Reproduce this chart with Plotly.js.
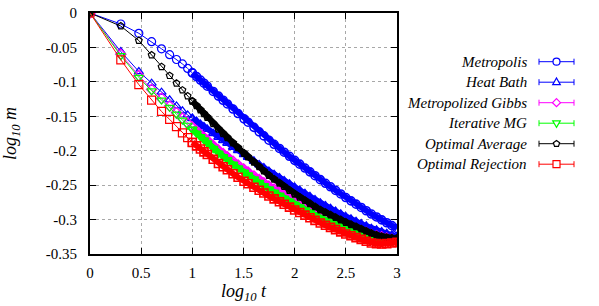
<!DOCTYPE html>
<html>
<head>
<meta charset="utf-8">
<script src="https://cdn.plot.ly/plotly-3.0.1.min.js"></script>
<style>html,body{margin:0;padding:0;background:#fff;}#chart{width:599px;height:306px;}</style>
</head>
<body>
<div id="chart"></div>
<script>
// time steps t (x axis is log10 t)
const tSteps = [1,2,3,4,5,6,7,8,9,10,
  11,12,13,14,16,18,20,22,25,28,
  32,35,40,45,50,56,63,71,79,89,
  100,112,126,141,158,178,200,224,251,282,
  316,355,398,447,501,562,631,708,794,891,
  1000];

const seriesNames = ["Metropolis","Heat Bath","Metropolized Gibbs","Iterative MG","Optimal Average","Optimal Rejection"];

// log10 m values
const metropolis = [0,-0.016,-0.0295,-0.0417,-0.052,-0.0605,-0.0675,-0.074,-0.0805,-0.087,
  -0.0924,-0.0974,-0.1020,-0.1063,-0.1139,-0.1207,-0.1267,-0.1321,-0.1395,-0.1460,
  -0.1536,-0.1586,-0.1661,-0.1726,-0.1785,-0.1847,-0.1907,-0.1967,-0.2022,-0.2081,
  -0.2140,-0.2195,-0.2252,-0.2307,-0.2363,-0.2420,-0.2473,-0.2524,-0.2576,-0.2628,
  -0.2680,-0.2728,-0.2776,-0.2824,-0.2872,-0.2920,-0.2962,-0.3004,-0.3046,-0.3088,
  -0.3130];
const heatBath = [0,-0.056,-0.085,-0.102,-0.115,-0.126,-0.135,-0.142,-0.148,-0.153,
  -0.1574,-0.1615,-0.1653,-0.1688,-0.1750,-0.1805,-0.1851,-0.1892,-0.1948,-0.1997,
  -0.2055,-0.2094,-0.2152,-0.2203,-0.2249,-0.2298,-0.2345,-0.2393,-0.2436,-0.2483,
  -0.2530,-0.2575,-0.2622,-0.2667,-0.2713,-0.2760,-0.2801,-0.2840,-0.2880,-0.2920,
  -0.2960,-0.2994,-0.3028,-0.3062,-0.3096,-0.3130,-0.3154,-0.3178,-0.3202,-0.3226,
  -0.3250];
const metropolizedGibbs = [0,-0.060,-0.091,-0.111,-0.124,-0.135,-0.145,-0.153,-0.160,-0.166,
  -0.1714,-0.1764,-0.1810,-0.1853,-0.1929,-0.1996,-0.2047,-0.2093,-0.2156,-0.2211,
  -0.2275,-0.2314,-0.2372,-0.2423,-0.2469,-0.2518,-0.2561,-0.2605,-0.2644,-0.2687,
  -0.2730,-0.2767,-0.2806,-0.2843,-0.2881,-0.2920,-0.2955,-0.2988,-0.3022,-0.3056,
  -0.3090,-0.3116,-0.3142,-0.3168,-0.3194,-0.3220,-0.3238,-0.3256,-0.3274,-0.3292,
  -0.3310];
const iterativeMG = [0,-0.062,-0.0935,-0.113,-0.1265,-0.137,-0.147,-0.1555,-0.163,-0.169,
  -0.1746,-0.1797,-0.1845,-0.1889,-0.1967,-0.2036,-0.2087,-0.2133,-0.2196,-0.2251,
  -0.2315,-0.2354,-0.2412,-0.2463,-0.2509,-0.2558,-0.2603,-0.2649,-0.2690,-0.2735,
  -0.2780,-0.2817,-0.2856,-0.2893,-0.2931,-0.2970,-0.3003,-0.3034,-0.3066,-0.3098,
  -0.3130,-0.3156,-0.3182,-0.3208,-0.3234,-0.3260,-0.3274,-0.3288,-0.3302,-0.3316,
  -0.3330];
const optimalAverage = [0,-0.019,-0.040,-0.061,-0.078,-0.091,-0.102,-0.112,-0.1205,-0.128,
  -0.1346,-0.1406,-0.1462,-0.1514,-0.1606,-0.1687,-0.1751,-0.1809,-0.1887,-0.1956,
  -0.2037,-0.2088,-0.2165,-0.2232,-0.2293,-0.2357,-0.2413,-0.2469,-0.2519,-0.2575,
  -0.2630,-0.2675,-0.2722,-0.2767,-0.2813,-0.2860,-0.2897,-0.2932,-0.2968,-0.3004,
  -0.3040,-0.3072,-0.3104,-0.3136,-0.3168,-0.3200,-0.3225,-0.3245,-0.3260,-0.3268,
  -0.3270];
const optimalRejection = [0,-0.068,-0.104,-0.1265,-0.143,-0.1545,-0.165,-0.174,-0.181,-0.188,
  -0.1929,-0.1975,-0.2017,-0.2055,-0.2125,-0.2185,-0.2233,-0.2276,-0.2334,-0.2385,
  -0.2444,-0.2479,-0.2530,-0.2575,-0.2615,-0.2658,-0.2699,-0.2741,-0.2778,-0.2819,
  -0.2860,-0.2897,-0.2936,-0.2973,-0.3011,-0.3050,-0.3083,-0.3114,-0.3146,-0.3178,
  -0.3210,-0.3236,-0.3262,-0.3288,-0.3314,-0.3340,-0.3350,-0.3355,-0.3350,-0.3340,
  -0.3330];

const xTickVals = [0,0.5,1,1.5,2,2.5,3];
const xTickText = ["0","0.5","1","1.5","2","2.5","3"];
const yTickVals = [0,-0.05,-0.1,-0.15,-0.2,-0.25,-0.3,-0.35];
const yTickText = ["0","-0.05","-0.1","-0.15","-0.2","-0.25","-0.3","-0.35"];

const allSeries = [metropolis, heatBath, metropolizedGibbs, iterativeMG, optimalAverage, optimalRejection];
const colors = ["#0000ff","#0000ff","#ff00ff","#00ff00","#000000","#ff0000"];
const symbols = ["circle-open","triangle-up-open","diamond-open","triangle-down-open","pentagon-open","square-open"];
const sizes = [8,8,8,8,7,8];

const logT = tSteps.map(v => Math.log10(v));
// beyond t = 10 the points crowd together and the markers merge into a solid band
const split = tSteps.indexOf(10);

const traces = [];
allSeries.forEach((ys, i) => {
  traces.push({
    type: "scatter", mode: "lines+markers", name: seriesNames[i], showlegend: false,
    x: logT.slice(0, split + 1), y: ys.slice(0, split + 1),
    line: {color: colors[i], width: 1},
    marker: {symbol: symbols[i], size: sizes[i], color: colors[i], line: {color: colors[i], width: 1.2}}
  });
  traces.push({
    type: "scatter", mode: "lines+markers", name: seriesNames[i], showlegend: false,
    x: logT.slice(split), y: ys.slice(split),
    line: {color: colors[i], width: 6},
    marker: {symbol: symbols[i], size: sizes[i], color: colors[i], line: {color: colors[i], width: 1.6}}
  });
});

// Plot geometry (px)
const W = 599, H = 306, L = 90, R = 202, T = 13, B = 52;
const pw = W - L - R, ph = H - T - B;
const px2x = p => (p - L) / pw;
const py2y = p => (H - B - p) / ph;

const serif = "Liberation Serif";
const textFont = {family: serif, size: 15, color: "#000"};

// custom legend (text left, sample right), like the reference
const annotations = [];
const shapes = [];
const legTextRight = 529, legLine0 = 539, legLine1 = 574, legMid = 556.5;
const symPaths = {
  "triangle-up-open": "M0,4.2L3.8,-2.4L-3.8,-2.4Z",
  "diamond-open": "M0,4L4,0L0,-4L-4,0Z",
  "triangle-down-open": "M0,-4.2L3.8,2.4L-3.8,2.4Z",
  "square-open": "M-3.5,-3.5L3.5,-3.5L3.5,3.5L-3.5,3.5Z"
};
function pentagonPath(r) {
  let d = "";
  for (let k = 0; k < 5; k++) {
    const a = Math.PI / 2 + k * 2 * Math.PI / 5;
    d += (k === 0 ? "M" : "L") + (r * Math.cos(a)).toFixed(2) + "," + (r * Math.sin(a)).toFixed(2);
  }
  return d + "Z";
}
seriesNames.forEach((nm, i) => {
  const py = 61.7 + i * 20.5;
  const yp = py2y(py);
  annotations.push({
    xref: "paper", yref: "paper", x: px2x(legTextRight), y: yp,
    xanchor: "right", yanchor: "middle", showarrow: false,
    text: "<i>" + nm + "</i>", font: textFont
  });
  const c = colors[i];
  shapes.push({type: "line", xref: "paper", yref: "paper", x0: px2x(legLine0), x1: px2x(legLine1), y0: yp, y1: yp, line: {color: c, width: 1}});
  [legLine0, legLine1].forEach(px => {
    shapes.push({type: "line", xref: "paper", yref: "paper", xsizemode: "pixel", ysizemode: "pixel",
      xanchor: px2x(px), yanchor: yp, x0: 0, x1: 0, y0: -3, y1: 3, line: {color: c, width: 1}});
  });
  const sym = symbols[i];
  if (sym === "circle-open") {
    shapes.push({type: "circle", xref: "paper", yref: "paper", xsizemode: "pixel", ysizemode: "pixel",
      xanchor: px2x(legMid), yanchor: yp, x0: -3.5, x1: 3.5, y0: -3.5, y1: 3.5,
      fillcolor: "#ffffff", line: {color: c, width: 1.2}});
  } else {
    const path = sym === "pentagon-open" ? pentagonPath(3.3) : symPaths[sym];
    shapes.push({type: "path", xref: "paper", yref: "paper", xsizemode: "pixel", ysizemode: "pixel",
      xanchor: px2x(legMid), yanchor: yp, path: path,
      fillcolor: "#ffffff", line: {color: c, width: 1.2}});
  }
});

const axisCommon = {
  showline: true, linecolor: "#000", linewidth: 2, mirror: "allticks",
  ticks: "inside", ticklen: 6, tickwidth: 1, tickcolor: "#000",
  showgrid: true, gridcolor: "#a8a8a8", griddash: "dot", gridwidth: 1,
  zeroline: false, tickfont: textFont, automargin: false, tickmode: "array"
};

const layout = {
  width: W, height: H,
  font: {family: serif, color: "#000"},
  margin: {l: L, r: R, t: T, b: B, pad: 0},
  paper_bgcolor: "#fff", plot_bgcolor: "#fff",
  showlegend: false,
  xaxis: Object.assign({}, axisCommon, {
    range: [0, 3], tickvals: xTickVals, ticktext: xTickText,
    ticklabelstandoff: 4,
    title: {text: "<i>log<sub>10</sub> t</i>", font: {family: serif, size: 18, color: "#000"}, standoff: 3}
  }),
  yaxis: Object.assign({}, axisCommon, {
    range: [-0.35, 0], tickvals: yTickVals, ticktext: yTickText,
    ticklabelstandoff: 8,
    title: {text: "<i>log<sub>10</sub> m</i>", font: {family: serif, size: 18, color: "#000"}, standoff: 24}
  }),
  annotations: annotations,
  shapes: shapes
};

Plotly.newPlot("chart", traces, layout, {staticPlot: true, displayModeBar: false});
</script>
</body>
</html>
